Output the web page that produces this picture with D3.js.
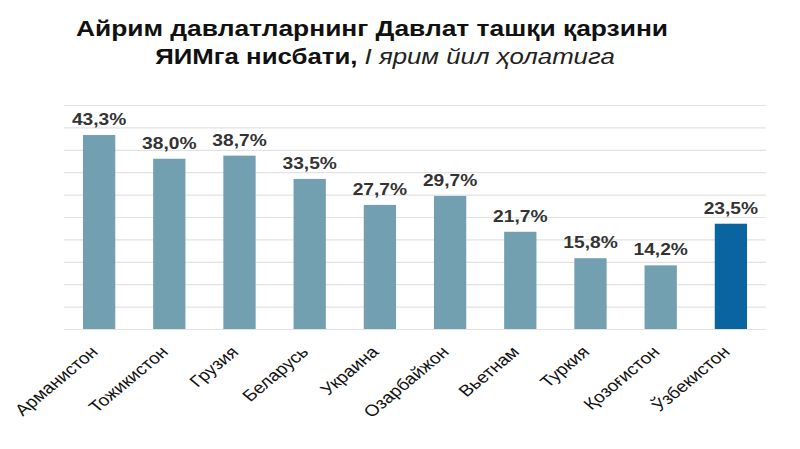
<!DOCTYPE html>
<html>
<head>
<meta charset="utf-8">
<script src="https://cdn.jsdelivr.net/npm/d3@7"></script>
<style>
  body { margin: 0; background: #fff; }
  text { font-family: "Liberation Sans", Arial, sans-serif; }
</style>
</head>
<body>
<div id="chart"></div>
<script>
// Data
var countries = ["Арманистон", "Тожикистон", "Грузия", "Беларусь", "Украина",
                 "Озарбайжон", "Вьетнам", "Туркия", "Қозоғистон", "Ўзбекистон"];
var values = [43.3, 38.0, 38.7, 33.5, 27.7, 29.7, 21.7, 15.8, 14.2, 23.5];
var valueLabels = ["43,3%", "38,0%", "38,7%", "33,5%", "27,7%", "29,7%", "21,7%", "15,8%", "14,2%", "23,5%"];
var gridTicks = [0, 5, 10, 15, 20, 25, 30, 35, 40, 45, 50];
var highlight = "Ўзбекистон";

var width = 800, height = 449;
var margin = { top: 105, right: 34, bottom: 120, left: 64 };
// the original picture is a bit stretched sideways, so text gets the same
var sx = 1.2;

var svg = d3.select("#chart")
  .append("svg")
  .attr("width", width)
  .attr("height", height);

// Title
svg.append("text")
  .attr("transform", "translate(372,36) scale(" + sx + ",1)")
  .attr("text-anchor", "middle")
  .attr("font-weight", "bold")
  .attr("font-size", 22)
  .attr("fill", "#111")
  .text("Айрим давлатларнинг Давлат ташқи қарзини");
var l2 = svg.append("text")
  .attr("transform", "translate(385,64) scale(" + sx + ",1)")
  .attr("text-anchor", "middle")
  .attr("font-size", 21.5)
  .attr("fill", "#111");
l2.append("tspan").attr("font-weight", "bold").text("ЯИМга нисбати, ");
l2.append("tspan").attr("font-style", "italic").attr("fill", "#222").text("I ярим йил ҳолатига");

// Scales
var x = d3.scaleBand()
  .domain(countries)
  .range([margin.left, width - margin.right])
  .paddingInner(0.54)
  .paddingOuter(0.27);

var y = d3.scaleLinear()
  .domain([0, 50])
  .range([height - margin.bottom, margin.top]);

// Gridlines
svg.append("g")
  .selectAll("line")
  .data(gridTicks)
  .enter()
  .append("line")
  .attr("x1", margin.left)
  .attr("x2", width - margin.right)
  .attr("y1", function(d) { return y(d) + 0.5; })
  .attr("y2", function(d) { return y(d) + 0.5; })
  .attr("stroke", "#e2e2e2")
  .attr("stroke-width", 1.2);

// Bars
svg.append("g")
  .selectAll("rect")
  .data(countries)
  .enter()
  .append("rect")
  .attr("x", function(d) { return x(d); })
  .attr("width", x.bandwidth())
  .attr("y", function(d, i) { return y(values[i]); })
  .attr("height", function(d, i) { return y(0) - y(values[i]); })
  .attr("fill", function(d) { return d == highlight ? "#0a64a0" : "#72a0b1"; });

// Value labels
svg.append("g")
  .selectAll("text")
  .data(countries)
  .enter()
  .append("text")
  .attr("transform", function(d, i) {
    return "translate(" + (x(d) + x.bandwidth() / 2) + "," + (y(values[i]) - 10) + ") scale(" + sx + ",1)";
  })
  .attr("text-anchor", "middle")
  .attr("font-weight", "bold")
  .attr("font-size", 16)
  .attr("fill", "#333")
  .text(function(d, i) { return valueLabels[i]; });

// Category labels, rotated
svg.append("g")
  .selectAll("text")
  .data(countries)
  .enter()
  .append("text")
  .attr("transform", function(d) {
    return "translate(" + (x(d) + x.bandwidth() / 2) + "," + (y(0) + 24) + ") scale(" + sx + ",1) rotate(-45)";
  })
  .attr("text-anchor", "end")
  .attr("font-size", 16)
  .attr("fill", "#111")
  .text(function(d) { return d; });
</script>
</body>
</html>
